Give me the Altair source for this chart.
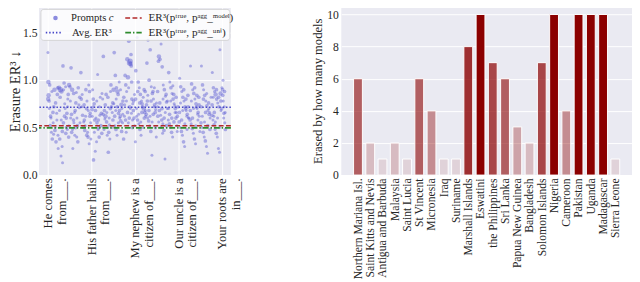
import altair as alt
import pandas as pd

# ---------------- data ----------------
prompt_ticks = [0, 200, 400, 600, 800]
prompt_lines = [
    ["He comes", "from___."],
    ["His father hails", "from___."],
    ["My nephew is a", "citizen of___."],
    ["Our uncle is a", "citizen of___."],
    ["Your roots are", "in___."],
]

avg_er3 = 0.714
er3_model = 0.520
er3_uni = 0.497

# (prompt index, ER3, marker size)
points = [
    (2,0.80,18),(6,0.78,12),(4,0.84,18),(9,0.95,12),(3,0.98,18),(1,1.29,8),(13,0.62,12),(17,0.45,8),(21,0.38,12),(25,0.55,8),
    (28,0.72,12),(31,0.90,18),(35,0.50,8),(38,0.35,12),(41,0.65,8),(44,0.85,12),(47,0.42,8),(15,0.60,8),(33,0.47,12),(48,0.28,8),
    (52,0.92,18),(58,0.90,25),(63,0.88,18),(70,1.15,12),(75,0.97,12),(80,0.70,8),(85,0.60,12),(90,0.48,8),(55,0.38,12),(66,0.30,8),
    (72,0.55,12),(78,0.75,8),(88,0.65,12),(61,0.20,8),(68,0.13,8),(94,0.85,12),(97,0.52,8),(83,0.44,12),(92,0.80,8),(98,0.95,18),
    (102,0.93,12),(107,1.13,12),(112,0.90,18),(118,0.58,12),(123,0.66,8),(128,0.50,12),(133,0.40,8),(138,0.35,12),(143,0.74,8),(147,0.82,12),
    (105,0.60,8),(110,0.45,12),(115,0.28,8),(120,0.55,8),(126,0.68,12),(131,0.87,8),(136,0.52,12),(145,0.71,8),
    (152,1.08,12),(156,0.72,8),(160,0.63,12),(165,0.56,8),(170,0.47,12),(175,0.90,12),(180,0.78,8),(185,0.40,12),(190,0.33,8),(195,0.65,12),
    (158,0.85,8),(168,0.58,12),(172,0.52,8),(178,0.70,12),(183,0.45,8),(188,0.95,8),(193,0.62,12),(198,0.38,8),
    (203,0.69,12),(210,0.16,12),(218,0.25,8),(206,0.90,8),(213,0.75,12),(221,0.60,8),(226,0.55,12),(231,0.48,8),(236,0.40,12),(241,0.82,8),
    (246,0.65,12),(208,0.72,8),(216,0.58,12),(224,0.35,8),(229,1.06,8),(234,0.50,12),(239,0.63,8),(248,0.44,12),
    (255,1.25,12),(252,0.80,8),(260,0.68,12),(265,0.62,18),(270,0.56,12),(275,0.50,8),(280,0.45,12),(285,0.38,8),(278,0.24,12),(288,0.88,8),
    (292,0.72,12),(296,0.66,8),(262,0.59,8),(268,0.85,12),(283,0.53,8),(290,0.95,12),(273,0.42,8),(298,0.76,12),
    (305,1.29,12),(310,1.05,12),(302,0.90,18),(315,0.92,12),(320,0.88,18),(325,0.65,12),(330,0.60,8),(335,0.57,12),(340,0.70,8),(345,0.78,12),
    (308,0.52,8),(313,0.48,12),(318,0.42,8),(323,0.85,12),(328,0.98,8),(333,0.62,12),(338,0.74,18),(343,0.55,8),(348,0.38,12),(312,0.68,8),
    (372,1.41,12),(365,1.22,18),(375,1.18,25),(380,1.17,18),(378,1.20,25),(383,1.15,12),(355,1.05,12),(368,1.03,18),(358,0.95,12),(362,0.88,8),
    (386,0.80,12),(390,0.75,8),(393,0.68,12),(352,0.62,8),(396,0.60,12),(370,0.55,8),(388,0.50,12),(360,0.45,8),(376,0.72,12),(384,0.65,8),
    (382,1.27,12),(398,0.85,8),
    (410,1.45,8),(404,1.10,12),(415,0.98,12),(420,0.92,8),(425,0.85,12),(430,0.78,8),(435,0.72,12),(440,0.70,18),(445,0.66,12),(408,0.62,8),
    (412,0.58,12),(418,0.54,8),(423,0.48,12),(428,0.42,8),(433,0.75,12),(438,0.82,8),(443,0.60,12),(448,0.68,8),(402,0.35,8),(447,0.88,12),
    (460,1.42,8),(470,1.32,12),(455,1.18,12),(465,1.00,12),(475,0.93,8),(480,0.86,12),(485,0.80,8),(490,0.74,12),(495,0.69,8),(452,0.64,12),
    (458,0.60,8),(463,0.57,12),(468,0.52,8),(473,0.46,12),(478,0.21,8),(483,0.88,12),(488,0.72,8),(493,0.66,12),(498,0.40,8),(457,0.78,12),
    (520,1.38,8),(510,1.25,18),(515,1.22,12),(508,1.20,12),(525,1.14,12),(530,0.95,8),(535,0.90,12),(540,0.83,8),(545,0.77,12),(503,0.72,8),
    (512,0.68,12),(518,0.63,8),(523,0.58,12),(528,0.54,8),(533,0.47,12),(538,0.17,8),(543,0.85,12),(548,0.70,8),(505,0.62,12),(527,0.44,8),
    (555,1.08,12),(560,0.98,8),(565,0.92,12),(570,0.86,8),(575,0.80,12),(580,0.75,8),(585,0.70,12),(590,0.66,8),(595,0.62,12),(553,0.58,8),
    (558,0.54,12),(563,0.50,8),(568,0.45,12),(573,0.40,8),(578,0.85,12),(583,0.73,8),(588,0.60,12),(593,0.52,8),
    (605,1.02,8),(610,0.93,12),(615,0.88,8),(620,0.82,12),(625,0.78,8),(630,0.72,12),(635,0.68,8),(640,0.64,12),(645,0.60,8),(603,0.56,12),
    (608,0.50,8),(613,0.46,12),(618,0.42,8),(623,0.35,12),(628,0.30,8),(633,0.70,12),(638,0.62,8),(643,0.84,12),
    (655,1.15,8),(660,0.96,12),(665,0.90,8),(670,0.86,12),(675,0.80,8),(680,0.75,12),(685,0.70,8),(690,0.66,12),(695,0.62,8),(653,0.58,12),
    (658,0.54,8),(663,0.49,12),(668,0.44,8),(673,0.38,12),(678,0.33,8),(683,0.72,12),(688,0.64,8),(693,0.82,12),
    (705,1.15,8),(710,0.95,12),(715,0.90,8),(720,0.84,12),(725,0.78,8),(730,0.73,12),(735,0.68,8),(740,0.64,12),(745,0.60,8),(703,0.55,12),
    (708,0.50,8),(713,0.45,12),(718,0.40,8),(723,0.36,12),(728,0.30,8),(733,0.23,8),(738,0.76,12),(743,0.66,8),
    (790,1.32,8),(755,1.08,8),(760,0.92,12),(765,0.88,8),(770,0.85,18),(775,0.80,12),(780,0.76,8),(785,0.72,12),(795,0.68,8),(753,0.63,12),
    (758,0.58,8),(763,0.53,12),(768,0.48,8),(773,0.44,12),(778,0.40,8),(783,0.28,8),(788,0.24,8),(793,0.86,18),(798,0.70,12),(762,0.62,8),
    (802,0.90,12),(805,0.78,8),(808,0.65,12),(812,0.55,8),(815,0.48,12),(804,1.00,8),(810,0.72,8),
]

# denser middle band of prompts, also
points_more = [
    (7,0.70,8),(11,0.52,12),(19,0.88,8),(24,0.66,12),(27,0.43,8),(36,0.76,12),(42,0.58,8),(46,0.92,12),
    (54,0.68,8),(57,0.82,12),(62,0.58,8),(67,0.46,12),(73,0.90,8),(77,0.62,12),(82,0.93,8),(86,0.50,12),(91,0.72,8),(96,0.40,12),
    (104,0.78,8),(109,0.64,12),(114,0.48,8),(119,0.86,12),(124,0.42,8),(129,0.76,12),(134,0.60,8),(140,0.92,12),(148,0.55,8),
    (154,0.80,12),(162,0.50,8),(167,0.74,12),(174,0.62,8),(179,0.42,12),(186,0.68,8),(192,0.88,12),(197,0.55,8),
    (204,0.62,8),(209,0.80,12),(214,0.45,8),(219,0.68,12),(225,0.78,8),(232,0.58,12),(237,0.72,8),(244,0.52,12),(249,0.86,8),
    (254,0.64,12),(258,0.48,8),(264,0.74,12),(271,0.66,8),(276,0.82,12),(282,0.60,8),(287,0.70,12),(294,0.50,8),(299,0.58,12),
    (303,0.75,8),(307,0.62,12),(314,0.80,8),(319,0.72,12),(324,0.55,8),(329,0.68,12),(334,0.90,8),(339,0.46,12),(344,0.64,8),(349,0.82,12),
    (353,0.74,8),(357,0.58,12),(361,0.78,8),(366,0.66,12),(371,0.92,8),(374,0.60,12),(379,0.70,8),(385,0.98,12),(389,0.58,8),(394,0.78,12),(399,0.52,8),
    (403,0.80,12),(407,0.70,8),(413,0.88,12),(417,0.64,8),(422,0.76,12),(427,0.56,8),(432,0.66,12),(437,0.50,8),(442,0.90,12),(449,0.62,8),
    (453,0.74,12),(459,0.84,8),(464,0.68,12),(469,0.62,8),(474,0.78,12),(479,0.56,8),(484,0.64,12),(489,0.92,8),(494,0.50,12),(499,0.76,8),
    (504,0.88,12),(509,0.56,8),(514,0.76,12),(519,0.50,8),(524,0.70,12),(529,0.80,8),(534,0.60,12),(539,0.66,8),(544,0.52,12),(549,0.78,8),
    (554,0.70,8),(559,0.64,12),(564,0.78,8),(569,0.60,12),(574,0.94,8),(579,0.56,12),(584,0.66,8),(589,0.82,12),(594,0.46,8),(598,0.72,12),
    (604,0.66,12),(609,0.76,8),(614,0.58,12),(619,0.68,8),(624,0.90,12),(629,0.54,8),(634,0.80,12),(639,0.48,8),(644,0.72,12),(648,0.60,8),
    (654,0.68,12),(659,0.78,8),(664,0.60,12),(669,0.70,8),(674,0.92,12),(679,0.52,8),(684,0.84,12),(689,0.58,8),(694,0.74,12),(698,0.46,8),
    (704,0.72,12),(709,0.62,8),(714,0.80,12),(719,0.56,8),(724,0.66,12),(729,0.86,8),(734,0.52,12),(739,0.70,8),(744,0.48,12),(749,0.82,8),
    (754,0.74,12),(759,0.82,8),(764,0.66,12),(769,0.56,8),(774,0.90,12),(779,0.60,8),(784,0.82,12),(789,0.50,8),(794,0.78,12),(799,0.92,8),
    (803,0.84,12),(807,0.60,8),(811,0.88,12),(814,0.66,8),
]

countries = [
    "Northern Mariana Isl.", "Saint Kitts and Nevis", "Antigua and Barbuda", "Malaysia",
    "Saint Lucia", "St Vincent", "Micronesia", "Iraq", "Suriname", "Marshall Islands",
    "Eswatini", "the Philippines", "Sri Lanka", "Papua New Guinea", "Bangladesh",
    "Solomon Islands", "Nigeria", "Cameroon", "Pakistan", "Uganda", "Madagascar", "Sierra Leone",
]
models_erased = [6, 2, 1, 2, 1, 6, 4, 1, 1, 8, 10, 7, 6, 3, 2, 7, 10, 4, 10, 10, 10, 1]

legend_texts = ["Prompts", "c", "Avg. ER³", "ER³(pᵗʳᵘᵉ, pᵃᵍᵍ_ᵐᵒᵈᵉˡ)", "ER³(pᵗʳᵘᵉ, pᵃᵍᵍ_ᵘⁿⁱ)"]

# ---------------- style ----------------
FONT = "Liberation Serif"
BG = "#EAEAF2"
PT_COLOR = "#5a5ad2"
BLUE = "#4646c8"
RED = "#b22a2a"
GREEN = "#2e8b2e"
W_L, W_R, H = 198, 300, 174

df_pts = pd.DataFrame(points + points_more, columns=["idx", "er3", "s"])
df_pts["s"] = df_pts["s"] * 1.2
df_bar = pd.DataFrame({"country": countries, "n": models_erased})
df_bar["alpha"] = df_bar["n"] / 10.0
one = pd.DataFrame({"k": [0]})

parts = []
for t, lines in zip(prompt_ticks, prompt_lines):
    parts.append("datum.value == %d ? [%s]" % (t, ", ".join("'%s'" % s for s in lines)))
label_expr = " : ".join(parts) + " : ''"

scatter = alt.Chart(df_pts).mark_circle(color=PT_COLOR, opacity=0.45).encode(
    x=alt.X("idx:Q", scale=alt.Scale(domain=[-40, 840], nice=False, zero=False),
            axis=alt.Axis(values=prompt_ticks, labelExpr=label_expr, labelAngle=-90, title=None,
                          labelFontSize=13, labelLineHeight=14)),
    y=alt.Y("er3:Q", scale=alt.Scale(domain=[0, 1.776], nice=False),
            axis=alt.Axis(values=[0, 0.5, 1.0, 1.5], format=".1f", title="Erasure ER³ ↓",
                          titleFontSize=15, titlePadding=0, labelPadding=2)),
    size=alt.Size("s:Q", scale=None, legend=None),
)

def hrule(val, color, dash, width):
    return alt.Chart(pd.DataFrame({"v": [val]})).mark_rule(
        color=color, strokeDash=dash, strokeWidth=width).encode(y="v:Q")

rules = [
    hrule(avg_er3, BLUE, [1.5, 2], 1.6),
    hrule(er3_model, RED, [5, 2.5], 1.6),
    hrule(er3_uni, GREEN, [6, 2, 1.5, 2], 1.6),
]

leg_box = alt.Chart(one).mark_rect(fill="white", fillOpacity=0.8, stroke="#cccccc",
                                   strokeWidth=0.8, cornerRadius=3).encode(
    x=alt.value(2), x2=alt.value(197), y=alt.value(3), y2=alt.value(35))
leg_pt = alt.Chart(one).mark_circle(color=PT_COLOR, opacity=0.7, size=22).encode(
    x=alt.value(17), y=alt.value(12))

def leg_line(y, color, dash, x0=7, x1=24):
    return alt.Chart(one).mark_rule(color=color, strokeDash=dash, strokeWidth=1.6).encode(
        x=alt.value(x0), x2=alt.value(x1), y=alt.value(y))

def leg_text(x, y, txt, style="normal", size=11):
    return alt.Chart(one).mark_text(align="left", baseline="middle", font=FONT,
                                    fontSize=size, fontStyle=style, color="#262626").encode(
        x=alt.value(x), y=alt.value(y), text=alt.value(txt))

legend = [
    leg_box, leg_pt,
    leg_line(27, BLUE, [1.5, 2]),
    leg_line(12, RED, [5, 2.5], 89, 106),
    leg_line(27, GREEN, [6, 2, 1.5, 2], 89, 106),
    leg_text(33, 12, legend_texts[0]),
    leg_text(72, 12, legend_texts[1], "italic"),
    leg_text(34, 27, legend_texts[2]),
    leg_text(113, 12, legend_texts[3], size=11.5),
    leg_text(113, 27, legend_texts[4], size=11.5),
]

left = alt.layer(scatter, *rules, *legend).properties(width=W_L, height=H)

bars = alt.Chart(df_bar).mark_bar(color="#8b0000", stroke="white", strokeWidth=1).encode(
    x=alt.X("country:N", sort=countries,
            scale=alt.Scale(paddingInner=0.28, paddingOuter=1),
            axis=alt.Axis(labelAngle=-90, title=None, bandPosition=0.5)),
    y=alt.Y("n:Q", scale=alt.Scale(domain=[0, 10.5], nice=False),
            axis=alt.Axis(values=[0, 2, 4, 6, 8, 10], title="Erased by how many models")),
    fillOpacity=alt.FillOpacity("alpha:Q", scale=None),
)
right = bars.properties(width=W_R, height=H)

chart = alt.hconcat(left, right, spacing=72).properties(
    padding={"left": 0, "top": -6, "right": 0, "bottom": 0}
).configure_view(fill=BG, stroke=None).configure_axis(
    gridColor="white", gridWidth=1, domain=False, ticks=False,
    labelFont=FONT, titleFont=FONT, labelFontSize=12, titleFontSize=13,
    labelColor="#262626", titleColor="#262626", labelPadding=3,
    titleFontWeight="normal", labelLineHeight=13, titlePadding=2,
)

chart.save("out.html", embed_options={"renderer": "svg", "actions": False})
